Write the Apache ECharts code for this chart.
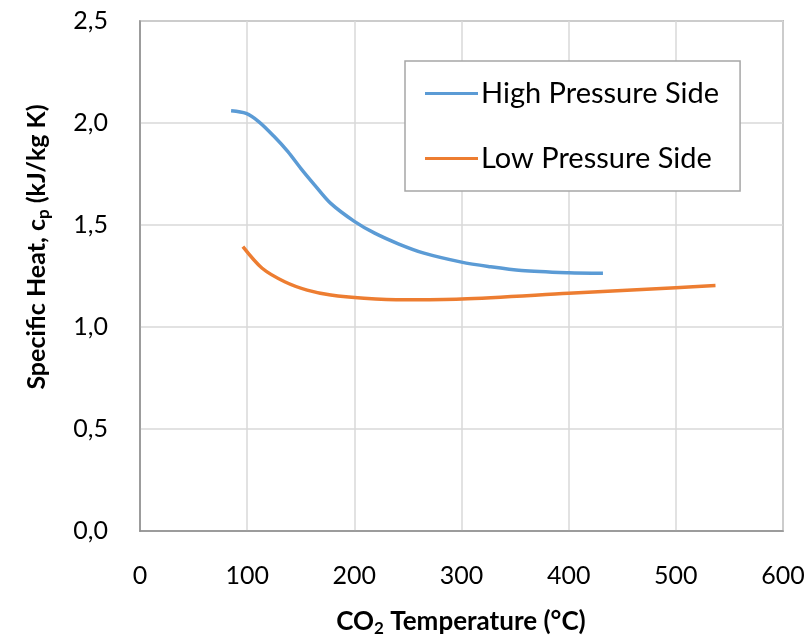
<!DOCTYPE html>
<html>
<head>
<meta charset="utf-8">
<script src="https://cdn.jsdelivr.net/npm/echarts@6/dist/echarts.min.js"></script>
<style>html,body{margin:0;padding:0;background:#fff}#c{width:808px;height:639px}</style>
</head>
<body>
<div id="c"></div>
<script>
const highPressure = [[85,2.060],[99,2.047],[111,2.006],[125,1.935],[138,1.860],[150,1.778],[163,1.696],[178,1.606],[200,1.518],[219,1.460],[241,1.408],[265,1.362],[300,1.318],[325,1.297],[356,1.277],[400,1.266],[432,1.263]];
const lowPressure = [[96,1.394],[114,1.288],[135,1.222],[156,1.181],[178,1.157],[209,1.141],[247,1.133],[300,1.137],[400,1.165],[500,1.193],[537,1.203]];
const seriesNames = ['High Pressure Side','Low Pressure Side'];
const FONT = 'Lato';
const chart = echarts.init(document.getElementById('c'));
chart.setOption({
  animation:false,
  grid:{left:140,right:25,top:21,bottom:108,show:true,borderColor:'#8c8c8c',borderWidth:1.5},
  xAxis:{type:'value',min:0,max:600,interval:100,
    axisLine:{show:true,lineStyle:{color:'#8c8c8c',width:1.5}},axisTick:{show:false},
    axisLabel:{margin:32,color:'#000',fontFamily:FONT,fontSize:25,formatter:v=>String(v)},
    splitLine:{show:true,lineStyle:{color:'#d9d9d9',width:1.5}}},
  yAxis:{type:'value',min:0,max:2.5,interval:0.5,
    axisLine:{show:true,lineStyle:{color:'#8c8c8c',width:1.5}},axisTick:{show:false},
    axisLabel:{margin:32,color:'#000',fontFamily:FONT,fontSize:25,formatter:v=>v.toFixed(1).replace('.',',')},
    splitLine:{show:true,lineStyle:{color:'#d9d9d9',width:1.5}}},
  legend:{show:true,left:405,top:61,orient:'vertical',itemGap:36,itemWidth:53,itemHeight:3,
    padding:[18,21,18,20],borderColor:'#a6a6a6',borderWidth:1.5,backgroundColor:'#fff',
    textStyle:{fontFamily:FONT,fontSize:29,color:'#000',padding:[0,0,0,-2]},
    icon:'rect',data:seriesNames},
  graphic:[
    {type:'text',x:461,y:622,style:{rich:{b:{fontFamily:FONT,fontSize:26,fontWeight:'bold',fill:'#000'},s:{fontFamily:FONT,fontSize:17,fontWeight:'bold',fill:'#000',padding:[14,0,0,0]}},text:'{b|CO}{s|2}{b| Temperature (°C)}',align:'center',verticalAlign:'middle'}},
    {type:'text',x:37,y:247,rotation:Math.PI/2,style:{rich:{b:{fontFamily:FONT,fontSize:25,fontWeight:'bold',fill:'#000'},s:{fontFamily:FONT,fontSize:17,fontWeight:'bold',fill:'#000',padding:[14,0,0,0]}},text:'{b|Specific Heat, c}{s|p}{b| (kJ/kg K)}',align:'center',verticalAlign:'middle'}}
  ],
  series:[
    {name:seriesNames[0],type:'line',data:highPressure,smooth:0.3,showSymbol:false,lineStyle:{color:'#5B9BD5',width:3.5},itemStyle:{color:'#5B9BD5'}},
    {name:seriesNames[1],type:'line',data:lowPressure,smooth:0.3,showSymbol:false,lineStyle:{color:'#ED7D31',width:3.5},itemStyle:{color:'#ED7D31'}}
  ]
});
</script>
</body>
</html>
